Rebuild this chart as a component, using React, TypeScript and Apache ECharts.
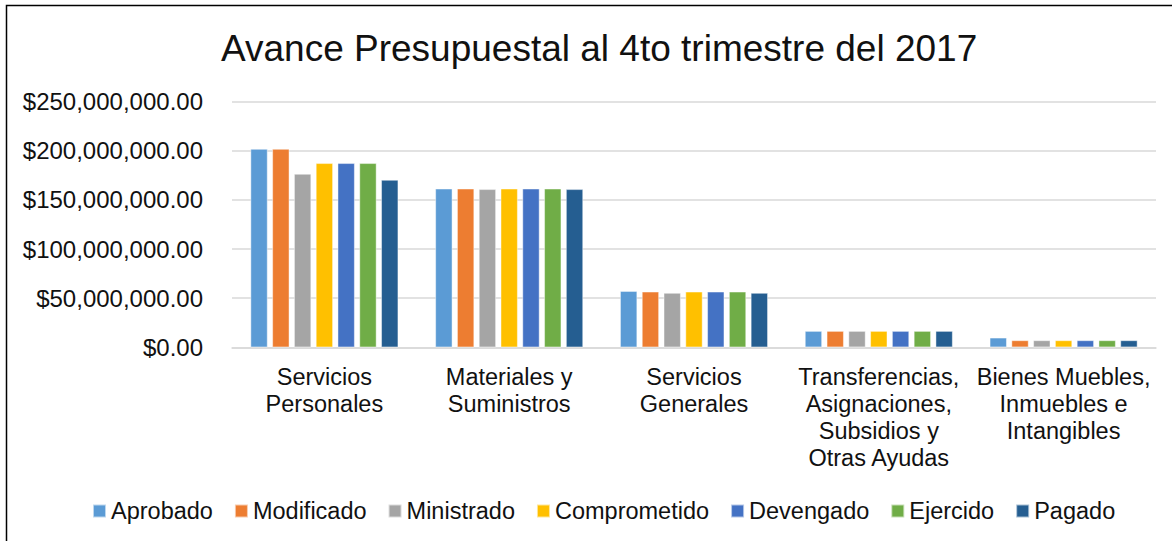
import React, { useEffect, useRef } from "react";
import * as echarts from "echarts";

const categories = [
  "Servicios\nPersonales",
  "Materiales y\nSuministros",
  "Servicios\nGenerales",
  "Transferencias,\nAsignaciones,\nSubsidios y\nOtras Ayudas",
  "Bienes Muebles,\nInmuebles e\nIntangibles",
];
const seriesNames = ["Aprobado", "Modificado", "Ministrado", "Comprometido", "Devengado", "Ejercido", "Pagado"];
const aprobado = [201900000, 161500000, 57300000, 16600000, 9800000];
const modificado = [201900000, 161500000, 56600000, 16600000, 7100000];
const ministrado = [176500000, 160900000, 55300000, 16600000, 7100000];
const comprometido = [187400000, 161500000, 56600000, 16600000, 7100000];
const devengado = [187400000, 161500000, 56600000, 16600000, 7100000];
const ejercido = [187400000, 161500000, 56600000, 16600000, 7100000];
const pagado = [170400000, 160900000, 55300000, 16600000, 7100000];
const colors = ["#5B9BD5", "#ED7D31", "#A5A5A5", "#FFC000", "#4472C4", "#70AD47", "#255E91"];
const yTicksMax = 250000000;
const yInterval = 50000000;

const FONT = "'Liberation Sans', Arial, sans-serif";

export default function App() {
  const ref = useRef<HTMLDivElement>(null);
  useEffect(() => {
    if (!ref.current) return;
    const chart = echarts.init(ref.current, undefined, { renderer: "svg" });
    const values = [aprobado, modificado, ministrado, comprometido, devengado, ejercido, pagado];
    chart.setOption({
      animation: false,
      backgroundColor: "#fff",
      color: colors,
      title: {
        text: "Avance Presupuestal al 4to trimestre del 2017",
        left: 216,
        top: 25,
        textStyle: { fontFamily: FONT, fontSize: 37, fontWeight: "normal", color: "#111" },
      },
      legend: {
        left: 87,
        top: 494,
        icon: "rect",
        itemWidth: 13,
        itemHeight: 13,
        itemGap: 21,
        textStyle: { fontFamily: FONT, fontSize: 23.5, color: "#111" },
        data: seriesNames,
      },
      grid: { left: 232, right: 16, top: 101.7, bottom: 193.7, containLabel: false },
      xAxis: {
        type: "category",
        data: categories,
        axisLine: { lineStyle: { color: "#D9D9D9", width: 1.5 } },
        axisTick: { show: false },
        axisLabel: {
          interval: 0,
          margin: 16,
          fontFamily: FONT,
          fontSize: 23.5,
          lineHeight: 27,
          color: "#111",
          align: "center",
        },
      },
      yAxis: {
        type: "value",
        min: 0,
        max: yTicksMax,
        interval: yInterval,
        axisLine: { show: false },
        axisTick: { show: false },
        splitLine: { lineStyle: { color: "#D9D9D9", width: 1.5 } },
        axisLabel: {
          margin: 29,
          fontFamily: FONT,
          fontSize: 24,
          color: "#111",
          formatter: (v: number) =>
            "$" + v.toLocaleString("en-US", { minimumFractionDigits: 2, maximumFractionDigits: 2 }),
        },
      },
      graphic: [
        {
          type: "rect",
          shape: { x: 6.5, y: 5.5, width: 1300, height: 700 },
          style: { fill: "none", stroke: "#000", lineWidth: 1.5 },
          silent: true,
          z: 100,
        },
      ],
      series: seriesNames.map((name, i) => ({
        name,
        type: "bar",
        data: values[i],
        barCategoryGap: "20%",
        barGap: "27%",
        itemStyle: { color: colors[i], borderColor: "rgba(255,255,255,0.6)", borderWidth: 0.75 },
      })),
    });
    return () => chart.dispose();
  }, []);
  return (
    <div
      ref={ref}
      style={{ position: "fixed", left: 0, top: 0, width: 1172, height: 541, background: "#fff" }}
    />
  );
}
